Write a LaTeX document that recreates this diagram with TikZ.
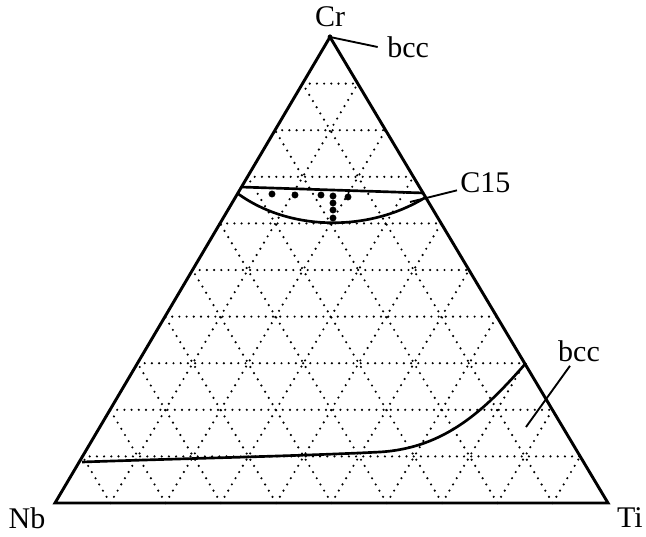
\documentclass[tikz,border=0pt]{standalone}
\usepackage{fontspec}
\setmainfont{Liberation Serif}
\begin{document}
\begin{tikzpicture}[x=0.75pt,y=-0.75pt,
  every node/.style={font=\fontsize{22.5}{26}\selectfont, inner sep=0pt},
  edge/.style={line width=2.2pt},
  gridline/.style={line width=1.8pt, line cap=round, dash pattern=on 0pt off 5.4pt},
  phase/.style={line width=2pt},
  leader/.style={line width=1.4pt}]
  \useasboundingbox (0,0) rectangle (646,536);
  \coordinate (Nb) at (55,503);
  \coordinate (Ti) at (608,503);
  \coordinate (Cr) at (330,37);
  % dotted grid in 10% steps
  \begin{scope}[shift={(Nb)}, x={(41.475pt,0pt)}, y={(20.625pt,34.95pt)}]
    \foreach \i in {1,...,9} {
      \draw[gridline] (0,\i) -- ({10-\i},\i);
      \draw[gridline] (\i,0) -- (\i,{10-\i});
      \draw[gridline] (\i,0) -- (0,\i);
    }
  \end{scope}
  \draw[edge] (Nb) -- (Ti) -- (Cr) -- cycle;
  \fill (Cr) circle[radius=1.8pt];
  % corner labels
  \node (crlab) at (330,17) {Cr};
  \node (nblab) at (27,518) {Nb};
  \node (tilab) at (630,518) {Ti};
  % C15 field
  \coordinate (c15a) at (241,187);
  \coordinate (c15b) at (424,193);
  \coordinate (c15c) at (237,193);
  \coordinate (c15d) at (426,197);
  \draw[phase] (c15a) -- (c15b);
  \draw[phase] (c15c) .. controls (290,232) and (370,232) .. (c15d);
  \foreach \p in {(272,194),(295,195),(321,195),(333,196),(348,197),(333,203),(333,210),(333,218)}
    \fill \p circle[radius=2.6pt];
  % bcc boundary
  \coordinate (bcca) at (82,462);
  \coordinate (bccb) at (526,363);
  \draw[phase] (bcca) .. controls (200,458) and (300,456) .. (380,452)
    .. controls (445,448) and (485,410) .. (bccb);
  % phase labels
  \node[anchor=west] (bcctop) at (387,47) {bcc};
  \node[anchor=west] (c15lab) at (460,183) {C15};
  \node (bccright) at (579,351) {bcc};
  \coordinate (c15tick) at (410,202);
  \coordinate (bcctick) at (526,427);
  \draw[leader] (Cr) -- ([xshift=-7pt]bcctop.west);
  \draw[leader] (c15tick) -- ([shift={(-3,-3)}]c15lab.south west);
  \draw[leader] (bcctick) -- ([shift={(-9,4)}]bccright.south);
\end{tikzpicture}
\end{document}
